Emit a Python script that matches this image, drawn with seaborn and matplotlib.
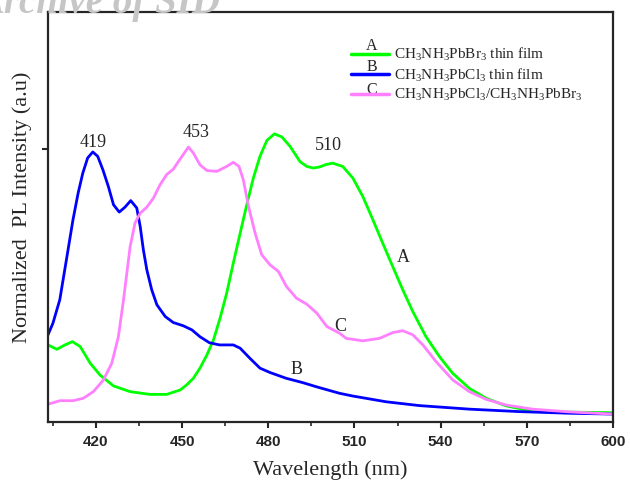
import numpy as np
import pandas as pd
import matplotlib
matplotlib.use("Agg")
import matplotlib.pyplot as plt
from matplotlib.lines import Line2D
import seaborn as sns

# ---------------- data ----------------
wl_A = [403.3, 406.4, 409.2, 411.8, 414.5, 418.0, 421.4, 426.1, 431.9, 438.8,
        444.6, 449.3, 451.6, 453.9, 456.2, 458.6, 460.9, 463.2, 465.5, 467.8,
        470.2, 472.5, 474.8, 477.1, 479.5, 482.1, 484.7, 487.6, 491.0, 493.4,
        495.7, 497.8, 500.1, 502.4, 505.9, 509.4, 512.9, 516.4, 519.8, 523.3,
        526.8, 530.3, 534.9, 539.6, 544.2, 550.0, 555.8, 562.8, 569.7, 579.0,
        600.0]
I_A = [0.282, 0.266, 0.282, 0.294, 0.276, 0.215, 0.172, 0.132, 0.111, 0.101,
       0.101, 0.117, 0.136, 0.160, 0.197, 0.245, 0.300, 0.380, 0.471, 0.581,
       0.691, 0.795, 0.893, 0.972, 1.030, 1.054, 1.043, 1.008, 0.953, 0.935,
       0.929, 0.933, 0.942, 0.947, 0.935, 0.893, 0.825, 0.740, 0.655, 0.569,
       0.484, 0.404, 0.312, 0.239, 0.178, 0.123, 0.087, 0.059, 0.044, 0.037,
       0.034]

wl_B = [403.3, 405.0, 407.4, 409.7, 412.0, 413.8, 415.4, 417.1, 418.9, 420.6,
        422.4, 424.3, 426.1, 428.1, 430.1, 432.1, 434.2, 435.4, 436.5, 437.7,
        439.4, 441.2, 444.1, 446.9, 450.4, 453.4, 456.2, 459.5, 463.0, 467.8,
        470.2, 473.6, 477.1, 480.6, 486.2, 492.0, 496.7, 504.8, 509.4, 521.0,
        532.6, 550.0, 567.4, 584.8, 600.0]
I_B = [0.319, 0.361, 0.447, 0.593, 0.740, 0.838, 0.910, 0.966, 0.988, 0.972,
       0.923, 0.862, 0.795, 0.768, 0.786, 0.810, 0.783, 0.715, 0.630, 0.557,
       0.484, 0.429, 0.386, 0.364, 0.352, 0.337, 0.312, 0.290, 0.282, 0.282,
       0.270, 0.233, 0.197, 0.181, 0.160, 0.144, 0.129, 0.105, 0.095, 0.074,
       0.060, 0.047, 0.038, 0.032, 0.029]

wl_C = [403.3, 407.5, 412.1, 415.6, 419.1, 422.6, 425.5, 427.8, 429.5, 431.9,
        433.6, 435.4, 437.7, 440.0, 442.3, 444.6, 446.9, 449.3, 452.2, 453.9,
        456.2, 458.6, 462.1, 465.5, 467.8, 469.8, 471.3, 473.1, 475.4, 477.7,
        480.6, 483.5, 486.3, 489.8, 493.4, 496.9, 500.4, 504.8, 507.1, 512.9,
        518.7, 523.3, 526.8, 530.3, 533.8, 538.4, 544.2, 550.0, 555.8, 562.8,
        572.0, 584.8, 600.0]
I_C = [0.065, 0.078, 0.078, 0.087, 0.111, 0.154, 0.215, 0.312, 0.440, 0.642,
       0.728, 0.764, 0.786, 0.819, 0.868, 0.905, 0.925, 0.962, 1.006, 0.984,
       0.941, 0.920, 0.917, 0.935, 0.950, 0.935, 0.886, 0.789, 0.691, 0.612,
       0.575, 0.551, 0.496, 0.453, 0.431, 0.398, 0.349, 0.325, 0.306, 0.297,
       0.306, 0.327, 0.334, 0.319, 0.282, 0.221, 0.154, 0.111, 0.083, 0.062,
       0.047, 0.037, 0.029]

series_names = ["A", "B", "C"]
legend_labels = [r"CH$_{\rm 3}$NH$_{\rm 3}$PbBr$_{\rm 3}$ thin film",
                 r"CH$_{\rm 3}$NH$_{\rm 3}$PbCl$_{\rm 3}$ thin film",
                 r"CH$_{\rm 3}$NH$_{\rm 3}$PbCl$_{\rm 3}$/CH$_{\rm 3}$NH$_{\rm 3}$PbBr$_{\rm 3}$"]
colors = ["#00ff00", "#0000ff", "#ff80ff"]

peak_labels = ["419", "453", "510"]
peak_pos = [(419.0, 1.023), (454.9, 1.06), (500.9, 1.01)]
curve_label_pos = {"A": (527.1, 0.60), "B": (489.7, 0.193), "C": (505.0, 0.35)}

x_ticks = [420, 450, 480, 510, 540, 570, 600]

# ---------------- plotting ----------------
sns.set_style("ticks")
plt.rcParams["font.family"] = ["Liberation Serif", "DejaVu Serif"]
plt.rcParams["mathtext.fontset"] = "custom"
plt.rcParams["mathtext.rm"] = "Liberation Serif"
plt.rcParams["mathtext.it"] = "Liberation Serif:italic"

df = pd.concat([
    pd.DataFrame({"wl": wl_A, "I": I_A, "s": "A"}),
    pd.DataFrame({"wl": wl_B, "I": I_B, "s": "B"}),
    pd.DataFrame({"wl": wl_C, "I": I_C, "s": "C"}),
], ignore_index=True)

fig = plt.figure(figsize=(6.3, 4.84), dpi=100)
ax = fig.add_axes([48 / 630, 1 - 422 / 484, (613 - 48) / 630, (422 - 12) / 484])

sns.lineplot(data=df, x="wl", y="I", hue="s", palette=dict(zip(series_names, colors)),
             estimator=None, linewidth=2.0, legend=False, ax=ax)
for ln in ax.get_lines():
    ln.set_solid_joinstyle("round")

ax.set_xlim(403.3, 600)
ax.set_ylim(0, 1.5)
ax.set_xticks(x_ticks)
ax.set_xticks(np.arange(405, 600, 30), minor=True)
ax.set_yticks([1.0])
ax.set_yticklabels([])
ax.tick_params(axis="both", which="major", direction="out", length=4.5, width=1.5, pad=5)
ax.tick_params(axis="x", which="minor", direction="out", length=3, width=1.2)
for lab in ax.get_xticklabels():
    lab.set_fontfamily("Liberation Sans")
    lab.set_fontweight("bold")
    lab.set_fontsize(11)
for sp in ax.spines.values():
    sp.set_linewidth(1.6)
    sp.set_visible(True)

ax.set_xlabel("Wavelength (nm)", fontsize=16, labelpad=8)
ax.set_ylabel("Normalized  PL Intensity (a.u)", fontsize=16)
ax.yaxis.set_label_coords(-0.028, 0.524)

for t, (x, y) in zip(peak_labels, peak_pos):
    ax.text(x, y, t, fontsize=13, ha="center", va="center")
for k, (x, y) in curve_label_pos.items():
    ax.text(x, y, k, fontsize=13, ha="center", va="center")

handles = [Line2D([], [], color=c, linewidth=2.5) for c in colors]
leg = ax.legend(handles, legend_labels, loc="center left",
                bbox_to_anchor=((351 - 48) / 565, (422 - 74.5) / 410),
                frameon=False, fontsize=11, handlelength=2.5, handletextpad=0.3,
                labelspacing=0.22, borderpad=0, borderaxespad=0)

for k, ypx in zip(series_names, [46, 67, 90]):
    ax.text((372 - 48) / 565, (422 - ypx) / 410, k, fontsize=11.5, ha="center", va="center",
            transform=ax.transAxes)

# watermark
fig.text(-22 / 630, 1 - 12.5 / 484, "Archive of SID", fontsize=28, color="#c6c6c6",
         family="Liberation Serif", style="italic", weight="bold", va="baseline", ha="left",
         zorder=0)

fig.savefig("out.png", dpi=100)
